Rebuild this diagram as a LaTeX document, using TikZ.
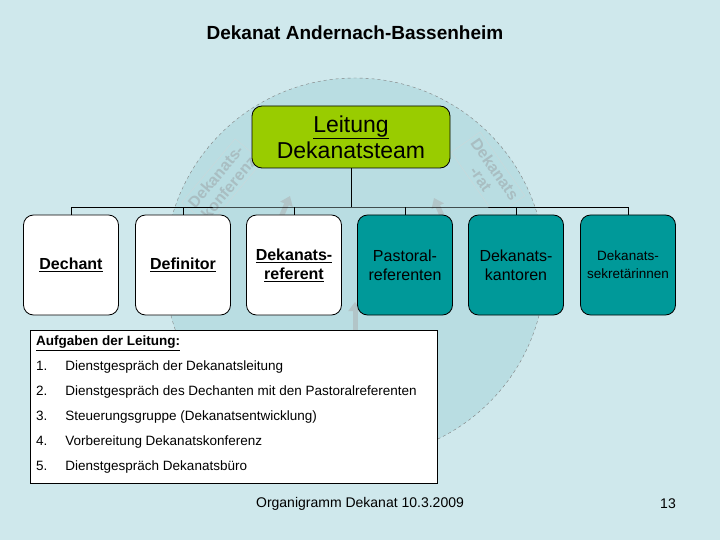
\documentclass[tikz,border=0pt]{standalone}
\usepackage{fontspec}
\setmainfont{Liberation Sans}
\usetikzlibrary{arrows.meta}
\newcommand{\ul}[1]{\underline{#1}}
\definecolor{bg}{HTML}{CFE8EC}
\definecolor{disc}{HTML}{B9DDE2}
\definecolor{lgreen}{HTML}{99CC00}
\definecolor{teal2}{HTML}{009999}
\definecolor{faint}{HTML}{A9BEC2}
\tikzset{
 unit/.style={draw=black,thick,rounded corners=10pt,minimum width=95pt,minimum height=100pt,align=center,font=\fontsize{16}{19}\selectfont},
 wunit/.style={unit,fill=white},
 tunit/.style={unit,fill=teal2},
 conn/.style={thick,black},
 ghost/.style={text=faint,font=\bfseries\fontsize{16}{17}\selectfont,align=center,draw=faint!60,thin},
 garrow/.style={-{Triangle[length=9pt,width=13pt]},line width=5pt,draw=faint!90}
}
\begin{document}
\begin{tikzpicture}[x=1pt,y=-1pt]
\fill[bg] (0,0) rectangle (720,540);
\useasboundingbox (0,0) rectangle (720,540);
\node (title) at (355,33) {\bfseries\fontsize{19}{22}\selectfont Dekanat Andernach-Bassenheim};
\filldraw[fill=disc,draw=gray,dashed,thin] (355,268) circle (190);
\node[ghost,rotate=50] (konf) at (222,182) {Dekanats-\\konferenz};
\node[ghost,rotate=-55] (rat) at (488,174) {Dekanats\\-rat};
\coordinate (a1s) at (279,222); \coordinate (a1e) at (290,196);
\coordinate (a2s) at (445,222); \coordinate (a2e) at (434,198);
\coordinate (a3s) at (355,332); \coordinate (a3e) at (355,302);
\draw[garrow] (a1s) -- (a1e);
\draw[garrow] (a2s) -- (a2e);
\draw[garrow] (a3s) -- (a3e);
\node[draw=black,thick,fill=lgreen,rounded corners=10pt,minimum width=198pt,minimum height=62pt,align=center,font=\fontsize{23}{26}\selectfont] (lead) at (351,137) {\ul{Leitung}\\Dekanatsteam};
\node[wunit] (b1) at (71,265) {\ul{\textbf{Dechant}}};
\node[wunit] (b2) at (183,265) {\ul{\textbf{Definitor}}};
\node[wunit] (b3) at (294,265) {\ul{\textbf{Dekanats-}}\\\ul{\textbf{referent}}};
\node[tunit] (b4) at (405,265) {Pastoral-\\referenten};
\node[tunit] (b5) at (516,265) {Dekanats-\\kantoren};
\node[tunit,font=\fontsize{13.5}{18}\selectfont] (b6) at (628,265) {Dekanats-\\sekretärinnen};
\coordinate (hub) at (351,207);
\draw[conn] (lead.south) -- (hub);
\draw[conn] (b1.north) |- (hub) -| (b6.north);
\foreach \b in {b2,b3,b4,b5}{\draw[conn] (\b.north) -- (\b.north |- hub);}
\node[draw=black,thick,fill=white,minimum width=407pt,minimum height=153pt,anchor=north west,inner sep=0pt] (tasks) at (30,330) {};
\node[anchor=north west,font=\fontsize{13.5}{16.5}\selectfont,align=left,inner sep=0pt] (tlist) at (36,336) {%
\ul{\textbf{Aufgaben der Leitung:}}\\[8.5pt]
1.\hspace{18pt}Dienstgespräch der Dekanatsleitung\\[8.5pt]
2.\hspace{18pt}Dienstgespräch des Dechanten mit den Pastoralreferenten\\[8.5pt]
3.\hspace{18pt}Steuerungsgruppe (Dekanatsentwicklung)\\[8.5pt]
4.\hspace{18pt}Vorbereitung Dekanatskonferenz\\[8.5pt]
5.\hspace{18pt}Dienstgespräch Dekanatsbüro};
\node[font=\fontsize{14}{16}\selectfont] (foot) at (360,504) {Organigramm Dekanat 10.3.2009};
\node[font=\fontsize{14}{16}\selectfont] (page) at (668,504) {13};
\end{tikzpicture}
\end{document}
